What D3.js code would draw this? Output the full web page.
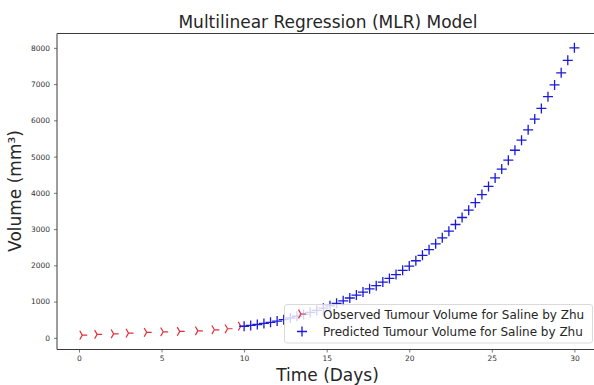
<!DOCTYPE html>
<html>
<head>
<meta charset="utf-8">
<script src="https://cdn.jsdelivr.net/npm/d3@7"></script>
<style>
  html, body { margin: 0; padding: 0; background: #fff; }
  svg { display: block; font-family: "DejaVu Sans", sans-serif; }
</style>
</head>
<body>
<svg id="chart" width="594" height="385"></svg>
<script>
// Observed tumour volumes (saline group)
const observedDays = [0.2, 1.1, 2.1, 3.0, 4.1, 5.1, 6.1, 7.2, 8.2, 9.0, 9.8];
const observedVolumes = [74, 94, 110, 130, 150, 166, 177, 193, 221, 250, 320];

// MLR predictions
const predictedDays = [10.0, 10.4, 10.8, 11.2, 11.6, 12.0, 12.4, 12.8, 13.2, 13.6,
  14.0, 14.4, 14.8, 15.2, 15.6, 16.0, 16.4, 16.8, 17.2, 17.6,
  18.0, 18.4, 18.8, 19.2, 19.6, 20.0, 20.4, 20.8, 21.2, 21.6,
  22.0, 22.4, 22.8, 23.2, 23.6, 24.0, 24.4, 24.8, 25.2, 25.6,
  26.0, 26.4, 26.8, 27.2, 27.6, 28.0, 28.4, 28.8, 29.2, 29.6, 30.0];
const predictedVolumes = [320, 342, 368, 397, 428, 462, 502, 547, 595, 647,
  700, 758, 819, 883, 951, 1020, 1099, 1179, 1263, 1351,
  1440, 1539, 1639, 1746, 1862, 1980, 2126, 2275, 2431, 2594,
  2760, 2942, 3127, 3320, 3523, 3730, 3953, 4178, 4412, 4655,
  4900, 5175, 5452, 5738, 6034, 6330, 6654, 6978, 7312, 7656, 8000];

const xTicks = [0, 5, 10, 15, 20, 25, 30];
const yTicks = [0, 1000, 2000, 3000, 4000, 5000, 6000, 7000, 8000];

const titleText = "Multilinear Regression (MLR) Model";
const xLabel = "Time (Days)";
const yLabel = "Volume (mm³)";
const legendLabels = ["Observed Tumour Volume for Saline by Zhu",
                      "Predicted Tumour Volume for Saline by Zhu"];

const svg = d3.select("#chart");
const plotLeft = 57, plotRight = 599, plotTop = 33.5, plotBottom = 349.5;

const x = d3.scaleLinear().domain([-1.33, 31.49]).range([plotLeft, plotRight]);
const y = d3.scaleLinear().domain([-322, 8396]).range([plotBottom, plotTop]);

const textColor = "#262626";
const spineColor = "#3a3a3a";

// axes
const xAxis = svg.append("g")
  .attr("transform", `translate(0,${plotBottom})`)
  .call(d3.axisBottom(x).tickValues(xTicks).tickSize(3).tickPadding(3).tickFormat(d3.format("d")));
const yAxis = svg.append("g")
  .attr("transform", `translate(${plotLeft},0)`)
  .call(d3.axisLeft(y).tickValues(yTicks).tickSize(3).tickPadding(4).tickFormat(d3.format("d")));

[xAxis, yAxis].forEach(g => {
  g.select(".domain").remove();
  g.selectAll(".tick line").attr("stroke", "#555").attr("stroke-width", 0.8);
  g.selectAll(".tick text")
    .attr("fill", "#333")
    .style("font-family", "DejaVu Sans, sans-serif")
    .style("font-size", "7.5px");
});

// spines: left, bottom, top (right lies beyond the canvas)
svg.append("line").attr("x1", plotLeft).attr("x2", plotLeft).attr("y1", plotTop).attr("y2", plotBottom)
  .attr("stroke", spineColor).attr("stroke-width", 1);
svg.append("line").attr("x1", plotLeft).attr("x2", plotRight).attr("y1", plotBottom).attr("y2", plotBottom)
  .attr("stroke", spineColor).attr("stroke-width", 1);
svg.append("line").attr("x1", plotLeft).attr("x2", plotRight).attr("y1", plotTop).attr("y2", plotTop)
  .attr("stroke", spineColor).attr("stroke-width", 1);

// marker shapes
const triRight = s => `M0,0L${s},0M0,0L${-s * 0.5},${-s * 0.866}M0,0L${-s * 0.5},${s * 0.866}`;
const plus = s => `M${-s},0L${s},0M0,${-s}L0,${s}`;

const redColor = "#e0303a";
const blueColor = "#1a1ad8";

const plot = svg.append("g");

plot.selectAll("path.obs")
  .data(observedDays.map((d, i) => [d, observedVolumes[i]]))
  .join("path")
  .attr("class", "obs")
  .attr("d", triRight(5))
  .attr("transform", d => `translate(${x(d[0])},${y(d[1])})`)
  .attr("fill", "none")
  .attr("stroke", redColor)
  .attr("stroke-width", 1.2);

plot.selectAll("path.pred")
  .data(predictedDays.map((d, i) => [d, predictedVolumes[i]]))
  .join("path")
  .attr("class", "pred")
  .attr("d", plus(5))
  .attr("transform", d => `translate(${x(d[0])},${y(d[1])})`)
  .attr("fill", "none")
  .attr("stroke", blueColor)
  .attr("stroke-width", 1.3);

// legend
const lg = svg.append("g");
lg.append("rect")
  .attr("x", 284.5).attr("y", 304.5).attr("width", 308).attr("height", 38.5)
  .attr("rx", 2.5)
  .attr("fill", "#fff").attr("fill-opacity", 0.8)
  .attr("stroke", "#d0d0d0").attr("stroke-width", 0.8);
lg.append("path").attr("d", triRight(5))
  .attr("transform", "translate(301,314)")
  .attr("fill", "none").attr("stroke", redColor).attr("stroke-width", 1.2);
lg.append("path").attr("d", plus(5))
  .attr("transform", "translate(302,331.5)")
  .attr("fill", "none").attr("stroke", blueColor).attr("stroke-width", 1.3);
lg.selectAll("text.lab")
  .data(legendLabels)
  .join("text")
  .attr("class", "lab")
  .attr("x", 323)
  .attr("y", (d, i) => 318.5 + i * 17.5)
  .attr("fill", textColor)
  .style("font-size", "12px")
  .text(d => d);

// titles
svg.append("text")
  .attr("x", 328).attr("y", 28)
  .attr("text-anchor", "middle")
  .attr("fill", textColor)
  .style("font-size", "17px")
  .text(titleText);

svg.append("text")
  .attr("x", 327.5).attr("y", 381)
  .attr("text-anchor", "middle")
  .attr("fill", textColor)
  .style("font-size", "17px")
  .text(xLabel);

svg.append("text")
  .attr("transform", "translate(21,191) rotate(-90)")
  .attr("text-anchor", "middle")
  .attr("fill", textColor)
  .style("font-size", "17px")
  .text(yLabel);
</script>
</body>
</html>
